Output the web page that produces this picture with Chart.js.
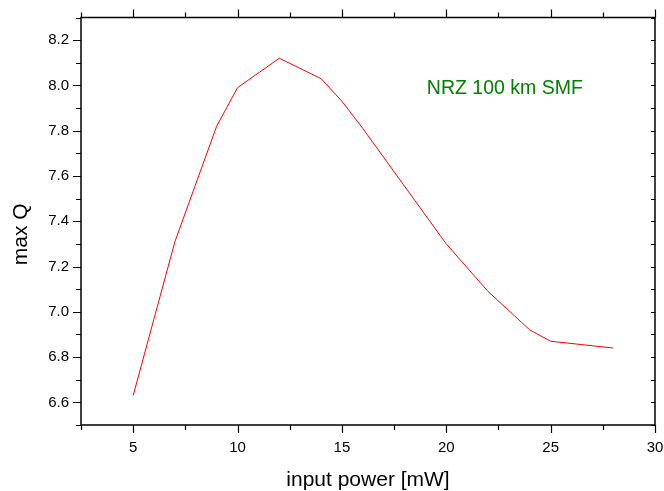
<!DOCTYPE html>
<html>
<head>
<meta charset="utf-8">
<script src="https://cdn.jsdelivr.net/npm/chart.js@4.4.1/dist/chart.umd.min.js"></script>
<style>
  html, body { margin: 0; padding: 0; background: #fff; }
  #c { display: block; }
</style>
</head>
<body>
<canvas id="c" width="664" height="491"></canvas>
<script>
// ---- data ----
const power = [5, 7, 9, 10, 12, 14, 15, 16, 18, 20, 22, 24, 25, 28];
const maxQ  = [6.63, 7.31, 7.82, 7.99, 8.12, 8.03, 7.93, 7.81, 7.555, 7.30, 7.09, 6.92, 6.87, 6.84];
const xRange = [2.5, 30];
const yRange = [6.5, 8.3];
const xTitle = 'input power [mW]';
const yTitle = 'max Q';
const noteText = 'NRZ 100 km SMF';
const notePos = { x: 19.07, y: 7.962 };

const FONT = "'Liberation Sans', Arial, Helvetica, sans-serif";

const framePlugin = {
  id: 'frame',
  afterDraw(chart) {
    const { ctx, chartArea: a, scales } = chart;
    const xs = scales.x, ys = scales.y;
    ctx.save();
    ctx.strokeStyle = '#000';
    ctx.lineWidth = 1.5;
    ctx.strokeRect(a.left, a.top, a.right - a.left, a.bottom - a.top);
    ctx.lineWidth = 1.2;
    ctx.beginPath();
    xs.ticks.forEach(t => {
      const px = Math.round(xs.getPixelForValue(t.value)) + 0.5;
      const major = Math.abs(t.value % 5) < 1e-6;
      const len = major ? 8 : 5;
      ctx.moveTo(px, a.bottom); ctx.lineTo(px, a.bottom + len);
      ctx.moveTo(px, a.top); ctx.lineTo(px, a.top - len);
    });
    ys.ticks.forEach(t => {
      const py = Math.round(ys.getPixelForValue(t.value)) + 0.5;
      const major = t.label !== '';
      const len = major ? 8 : 5;
      ctx.moveTo(a.left, py); ctx.lineTo(a.left - len, py);
      ctx.moveTo(a.right, py); ctx.lineTo(a.right - 4, py);
    });
    ctx.stroke();
    // y axis title
    ctx.fillStyle = '#000';
    ctx.font = '21px ' + FONT;
    ctx.textAlign = 'center';
    ctx.textBaseline = 'alphabetic';
    ctx.translate(27, (a.top + a.bottom) / 2 + 13);
    ctx.rotate(-Math.PI / 2);
    ctx.fillText(yTitle, 0, 0);
    ctx.restore();
    // annotation
    ctx.save();
    ctx.fillStyle = '#008000';
    ctx.font = '19.5px ' + FONT;
    ctx.textAlign = 'left';
    ctx.textBaseline = 'alphabetic';
    ctx.fillText(noteText, xs.getPixelForValue(notePos.x), ys.getPixelForValue(notePos.y));
    ctx.restore();
  }
};

new Chart(document.getElementById('c'), {
  type: 'scatter',
  data: {
    datasets: [{
      data: power.map((x, i) => ({ x: x, y: maxQ[i] })),
      showLine: true,
      borderColor: '#ff0000',
      borderWidth: 1,
      pointRadius: 0,
      tension: 0,
      fill: false
    }]
  },
  options: {
    responsive: false,
    animation: false,
    devicePixelRatio: 1,
    layout: { padding: { top: 17.5, right: 9, left: 0, bottom: 0 } },
    plugins: { legend: { display: false }, tooltip: { enabled: false } },
    scales: {
      x: {
        type: 'linear',
        min: xRange[0], max: xRange[1],
        grid: { display: false, drawTicks: false, tickLength: 0 },
        border: { display: false },
        ticks: {
          stepSize: 2.5, autoSkip: false, maxRotation: 0, minRotation: 0,
          color: '#000', padding: 14,
          font: { size: 15, family: FONT },
          callback: v => (Math.abs(v % 5) < 1e-6 && v >= 5) ? String(v) : ''
        },
        title: {
          display: true, text: xTitle, color: '#000',
          font: { size: 21, family: FONT }, padding: { top: 4, bottom: -2 }
        },
        afterFit: s => { s.height = 66; s.paddingLeft = 0; s.paddingRight = 0; }
      },
      y: {
        type: 'linear',
        min: yRange[0], max: yRange[1],
        grid: { display: false, drawTicks: false, tickLength: 0 },
        border: { display: false },
        ticks: {
          stepSize: 0.1, autoSkip: false,
          color: '#000', padding: 12,
          font: { size: 15, family: FONT },
          callback: v => (Math.round(v * 10) % 2 === 0) ? v.toFixed(1) : ''
        },
        afterFit: s => { s.width = 81; s.paddingTop = 0; s.paddingBottom = 0; }
      }
    }
  },
  plugins: [framePlugin]
});
</script>
</body>
</html>
